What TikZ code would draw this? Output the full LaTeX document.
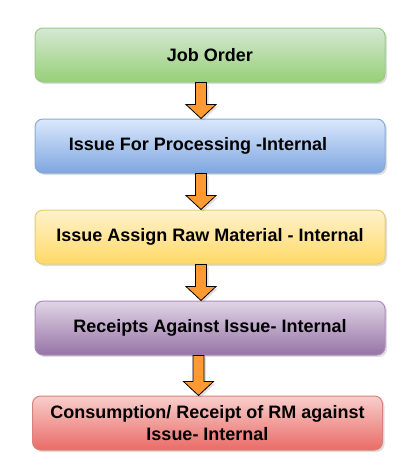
\documentclass[tikz,border=0pt]{standalone}
\usepackage{fontspec}
\setmainfont{Liberation Sans}
\usetikzlibrary{positioning}
\usetikzlibrary{calc}
\usetikzlibrary{shadows}

\definecolor{greentop}{HTML}{D5E8D4}
\definecolor{greenbot}{HTML}{97D077}
\definecolor{greenline}{HTML}{9CC98A}
\definecolor{bluetop}{HTML}{DAE8FC}
\definecolor{bluebot}{HTML}{7EA6E0}
\definecolor{blueline}{HTML}{8AAAD6}
\definecolor{yellowtop}{HTML}{FFF2CC}
\definecolor{yellowbot}{HTML}{FFD966}
\definecolor{yellowline}{HTML}{E6CB7A}
\definecolor{purpletop}{HTML}{E1D5E7}
\definecolor{purplebot}{HTML}{9673A6}
\definecolor{purpleline}{HTML}{A98CB8}
\definecolor{redtop}{HTML}{F8CECC}
\definecolor{redbot}{HTML}{EA6B66}
\definecolor{redline}{HTML}{D9837F}
\definecolor{arroworange}{HTML}{FF9A33}

\tikzset{
  stepbox/.style={rounded corners=8pt, minimum width=350pt, minimum height=54pt,
    align=center, line width=1pt, font=\bfseries\fontsize{18}{22}\selectfont,
    drop shadow={shadow xshift=2pt, shadow yshift=-2pt, opacity=.25}},
  greenbox/.style={stepbox, draw=greenline, top color=greentop, bottom color=greenbot},
  bluebox/.style={stepbox, draw=blueline, top color=bluetop, bottom color=bluebot},
  yellowbox/.style={stepbox, draw=yellowline, top color=yellowtop, bottom color=yellowbot},
  purplebox/.style={stepbox, draw=purpleline, top color=purpletop, bottom color=purplebot},
  redbox/.style={stepbox, draw=redline, top color=redtop, bottom color=redbot},
  flowarrow/.style={draw=black, line width=0.8pt, fill=arroworange, line join=miter,
    drop shadow={shadow xshift=2pt, shadow yshift=-2pt, opacity=.25}}
}

% block arrow from the bottom of #1 to the top of #2
\newcommand\flowarrow[2]{
  \path ($(#2.north)+(-9,0)$) coordinate (tip) (tip |- #1.south) coordinate (tail);
  \draw[flowarrow] ($(tail)+(-5.5,0)$) -- ($(tip)+(-5.5,14)$) -- ($(tip)+(-15,14)$)
    -- (tip) -- ($(tip)+(15,14)$) -- ($(tip)+(5.5,14)$) -- ($(tail)+(5.5,0)$) -- cycle;
}

\begin{document}
\begin{tikzpicture}[x=1pt,y=1pt]
  \useasboundingbox (0,0) rectangle (418,-475);
  \node[greenbox] (job) at (210,-55) {Job Order};
  \node[bluebox, below=36pt of job] (issue) {Issue For Processing -Internal\hspace*{24pt}};
  \node[yellowbox, below=36pt of issue] (assign) {Issue Assign Raw Material - Internal};
  \node[purplebox, below=36pt of assign] (receipt) {Receipts Against Issue- Internal};
  \node[redbox, below=40pt of receipt, xshift=-2.5pt] (consume) {Consumption/ Receipt of RM against\\Issue- Internal};
  \flowarrow{job}{issue}
  \flowarrow{issue}{assign}
  \flowarrow{assign}{receipt}
  \flowarrow{receipt}{consume}
\end{tikzpicture}
\end{document}
